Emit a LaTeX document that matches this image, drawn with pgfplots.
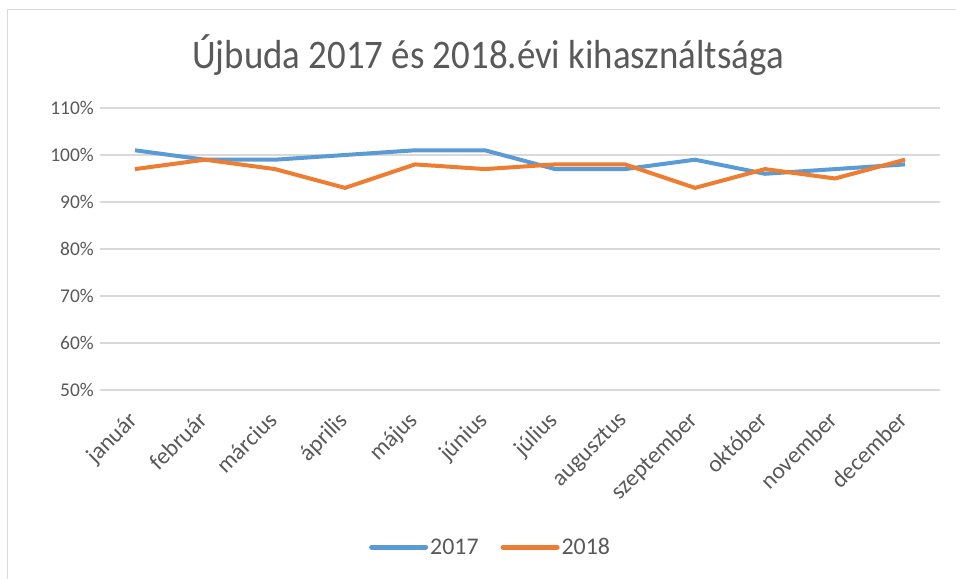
\documentclass[border=0pt]{standalone}
\usepackage{fontspec}
\setmainfont{Carlito}
\usepackage{pgfplots}
\pgfplotsset{compat=1.18}
\definecolor{blu}{HTML}{5B9BD5}
\definecolor{ora}{HTML}{ED7D31}
\definecolor{txt}{HTML}{595959}
\definecolor{grd}{HTML}{D9D9D9}
\begin{document}
\begin{tikzpicture}[x=1bp,y=1bp]
\useasboundingbox (0,0) rectangle (956,579);
\fill[white] (0,0) rectangle (956,579);
\draw[grd, line width=1bp] (7.5,0) -- (7.5,569.5) -- (956,569.5);
\node[txt, font=\fontsize{37}{42}\selectfont, anchor=center] at (488,579-55) {\scalebox{1}[1.1]{Újbuda 2017 és 2018.évi kihasználtsága}};
\begin{axis}[
  at={(100bp,189bp)}, anchor=south west,
  scale only axis, width=840bp, height=282bp,
  xmin=-0.5, xmax=11.5, ymin=50, ymax=110,
  xtick={0,...,11},
  xticklabels={január,február,március,április,május,június,július,augusztus,szeptember,október,november,december},
  xticklabel shift=20bp,
  xticklabel style={rotate=45, anchor=north east, xshift=-5.7bp, yshift=5.7bp, font=\fontsize{23.5}{27}\selectfont, text=txt, inner sep=0bp},
  ytick={50,60,...,110},
  yticklabel={\pgfmathprintnumber{\tick}\%},
  yticklabel style={font=\fontsize{19.5}{22}\selectfont, text=txt, inner sep=0bp, xshift=-6bp},
  /pgf/number format/assume math mode=true,
  ymajorgrids, major grid style={grd, line width=1.2bp},
  axis line style={draw=none},
  major tick length=0pt,
  legend style={at={(0.465,-0.557)}, anchor=center, draw=none, legend columns=2,
    font=\fontsize{24}{28}\selectfont, text=txt,
    /tikz/every even column/.append style={column sep=20bp}},
  legend cell align=left,
  legend image code/.code={\draw[#1, line width=5bp, line cap=round] (0bp,0bp) -- (54bp,0bp);},
  every axis plot/.append style={line width=4bp, line join=round},
]
\addplot[blu, mark=none] coordinates {(0,101) (1,99) (2,99) (3,100) (4,101) (5,101) (6,97) (7,97) (8,99) (9,96) (10,97) (11,98)};
\addlegendentry{2017}
\addplot[ora, mark=none] coordinates {(0,97) (1,99) (2,97) (3,93) (4,98) (5,97) (6,98) (7,98) (8,93) (9,97) (10,95) (11,99)};
\addlegendentry{2018}
\end{axis}
\end{tikzpicture}
\end{document}
